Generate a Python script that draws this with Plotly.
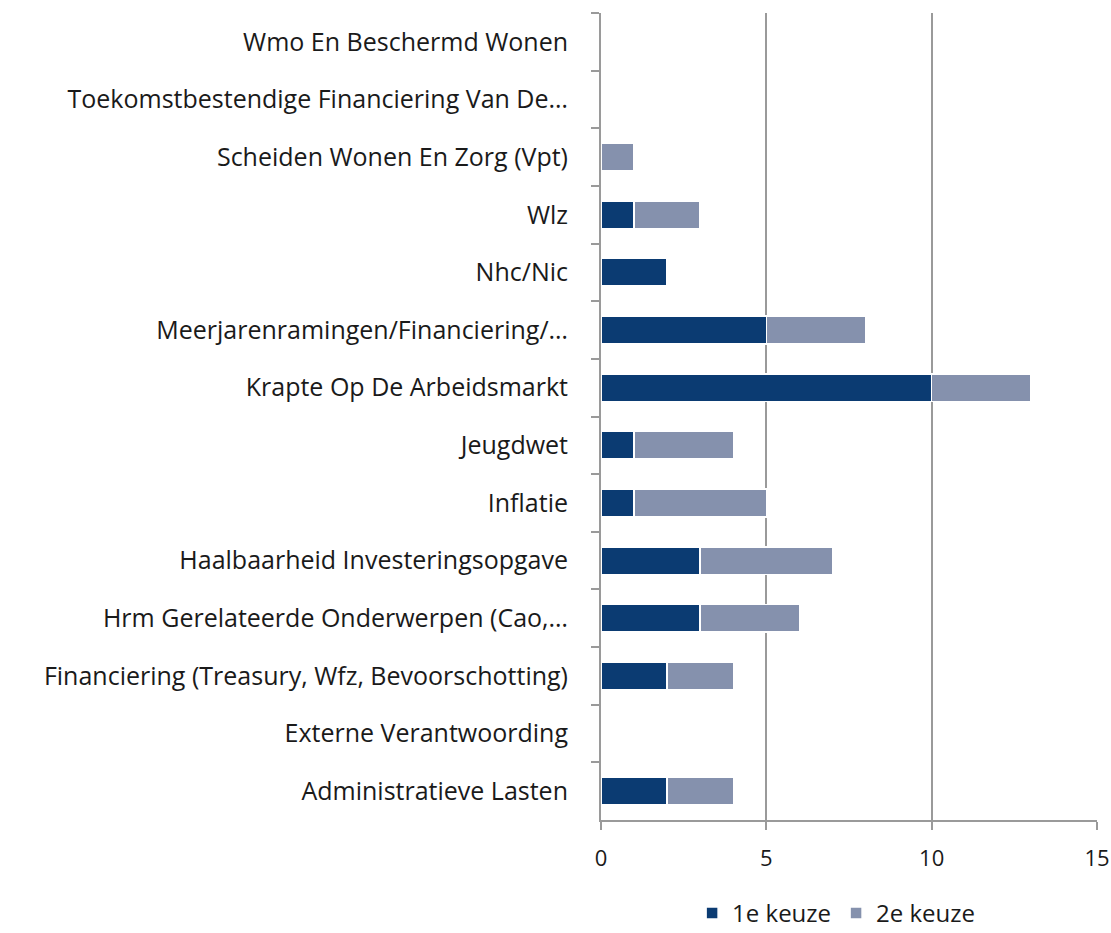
import plotly.graph_objects as go

categories = [
    "Wmo En Beschermd Wonen",
    "Toekomstbestendige Financiering Van De…",
    "Scheiden Wonen En Zorg (Vpt)",
    "Wlz",
    "Nhc/Nic",
    "Meerjarenramingen/Financiering/…",
    "Krapte Op De Arbeidsmarkt",
    "Jeugdwet",
    "Inflatie",
    "Haalbaarheid Investeringsopgave",
    "Hrm Gerelateerde Onderwerpen (Cao,…",
    "Financiering (Treasury, Wfz, Bevoorschotting)",
    "Externe Verantwoording",
    "Administratieve Lasten",
]
keuze1 = [0, 0, 0, 1, 2, 5, 10, 1, 1, 3, 3, 2, 0, 2]
keuze2 = [0, 0, 1, 2, 0, 3, 3, 3, 4, 4, 3, 2, 0, 2]
x_ticks = [0, 5, 10, 15]

fig = go.Figure()
fig.add_trace(go.Bar(y=categories, x=keuze1, orientation="h", name="1e keuze",
                     marker=dict(color="#0b3b72", line=dict(color="white", width=1.5))))
fig.add_trace(go.Bar(y=categories, x=keuze2, orientation="h", name="2e keuze",
                     marker=dict(color="#8591ad", line=dict(color="white", width=1.5))))

fig.update_layout(
    barmode="stack",
    bargap=0.52,
    width=1111, height=933,
    margin=dict(l=601, r=14, t=13, b=113, autoexpand=False),
    paper_bgcolor="white", plot_bgcolor="white",
    font=dict(family="Open Sans", size=25, color="#1a1a1a"),
    legend=dict(orientation="h", x=0.474, xanchor="center", yref="container", y=0.021,
                yanchor="middle", font=dict(size=24), traceorder="normal"),
    showlegend=True,
)
fig.update_xaxes(range=[0, 15], tickvals=x_ticks, showgrid=True, gridcolor="#9a9a9a", gridwidth=2,
                 showline=True, linecolor="#9a9a9a", linewidth=2, ticks="outside", ticklen=8,
                 tickcolor="#9a9a9a", tickwidth=2, zeroline=False, ticklabelstandoff=10,
                 tickfont=dict(size=22), automargin=False)
fig.update_yaxes(categoryorder="array", categoryarray=categories, autorange="reversed",
                 showline=True, linecolor="#9a9a9a", linewidth=2, ticks="outside", ticklen=8,
                 tickcolor="#9a9a9a", tickwidth=2, tickson="boundaries", showgrid=False,
                 ticklabelstandoff=26, automargin=False)

fig.write_html("out.html", config={"displayModeBar": False},
               post_script="document.body.style.margin='0';document.body.style.overflow='hidden';")
